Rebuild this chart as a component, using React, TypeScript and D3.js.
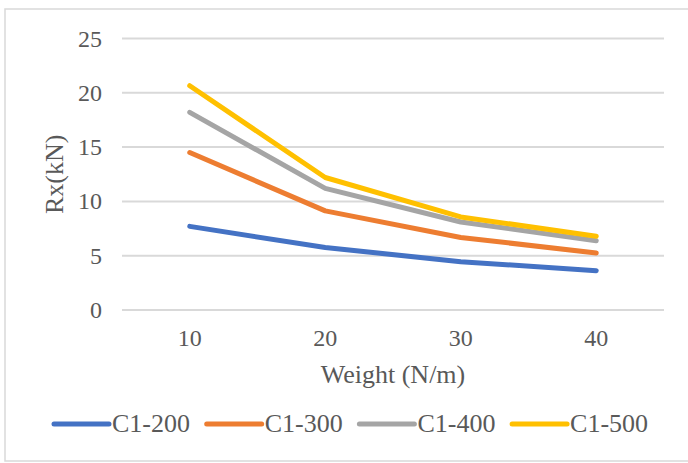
import React from "react";
import * as d3 from "d3";

const categories = ["10", "20", "30", "40"];
const yTicks = [0, 5, 10, 15, 20, 25];

const seriesNames = ["C1-200", "C1-300", "C1-400", "C1-500"];
const c1_200 = [7.7, 5.75, 4.45, 3.62];
const c1_300 = [14.5, 9.13, 6.68, 5.25];
const c1_400 = [18.2, 11.2, 8.1, 6.38];
const c1_500 = [20.65, 12.2, 8.57, 6.8];
const seriesColors = ["#4472C4", "#ED7D31", "#A5A5A5", "#FFC000"];

const W = 688;
const H = 463;
const plot = { left: 122, right: 664, top: 38.5, bottom: 310 };
const textColor = "#595959";
const font = "'Liberation Serif', 'Times New Roman', serif";

export default function App() {
  const x = d3
    .scaleBand<string>()
    .domain(categories)
    .range([plot.left, plot.right]);
  const cx = (c: string) => (x(c) ?? 0) + x.bandwidth() / 2;
  const y = d3.scaleLinear().domain([0, 25]).range([plot.bottom, plot.top]);

  const series = [c1_200, c1_300, c1_400, c1_500];
  const line = d3
    .line<number>()
    .x((_, i) => cx(categories[i]))
    .y((v) => y(v));

  const legendStart = 54;
  const legendPitch = 152.7;
  const swatchLen = 55;

  return (
    <div style={{ position: "absolute", left: 0, top: 0 }}>
      <svg width={W} height={H} style={{ display: "block", background: "#fff" }}>
        <rect x={5} y={9} width={700} height={452} fill="#fff" stroke="#D9D9D9" strokeWidth={1.5} />

        {yTicks.map((t) => (
          <g key={t}>
            <line
              x1={plot.left}
              x2={plot.right}
              y1={y(t)}
              y2={y(t)}
              stroke="#D9D9D9"
              strokeWidth={2}
            />
            <text
              x={102}
              y={y(t) + 8}
              textAnchor="end"
              fontFamily={font}
              fontSize={24}
              fill={textColor}
            >
              {t}
            </text>
          </g>
        ))}

        {categories.map((c) => (
          <text
            key={c}
            x={cx(c)}
            y={346}
            textAnchor="middle"
            fontFamily={font}
            fontSize={24}
            fill={textColor}
          >
            {c}
          </text>
        ))}

        {series.map((s, i) => (
          <path
            key={seriesNames[i]}
            d={line(s) ?? ""}
            fill="none"
            stroke={seriesColors[i]}
            strokeWidth={5}
            strokeLinecap="round"
            strokeLinejoin="round"
          />
        ))}

        <text
          x={(plot.left + plot.right) / 2}
          y={383}
          textAnchor="middle"
          fontFamily={font}
          fontSize={26}
          fill={textColor}
        >
          Weight (N/m)
        </text>
        <text
          transform={`translate(63,${(plot.top + plot.bottom) / 2}) rotate(-90)`}
          textAnchor="middle"
          fontFamily={font}
          fontSize={26}
          fill={textColor}
        >
          Rx(kN)
        </text>

        {seriesNames.map((n, i) => {
          const lx = legendStart + i * legendPitch;
          return (
            <g key={n}>
              <line
                x1={lx}
                x2={lx + swatchLen}
                y1={424}
                y2={424}
                stroke={seriesColors[i]}
                strokeWidth={5}
                strokeLinecap="round"
              />
              <text
                x={lx + swatchLen + 3}
                y={432}
                fontFamily={font}
                fontSize={26}
                fill={textColor}
              >
                {n}
              </text>
            </g>
          );
        })}
      </svg>
    </div>
  );
}
